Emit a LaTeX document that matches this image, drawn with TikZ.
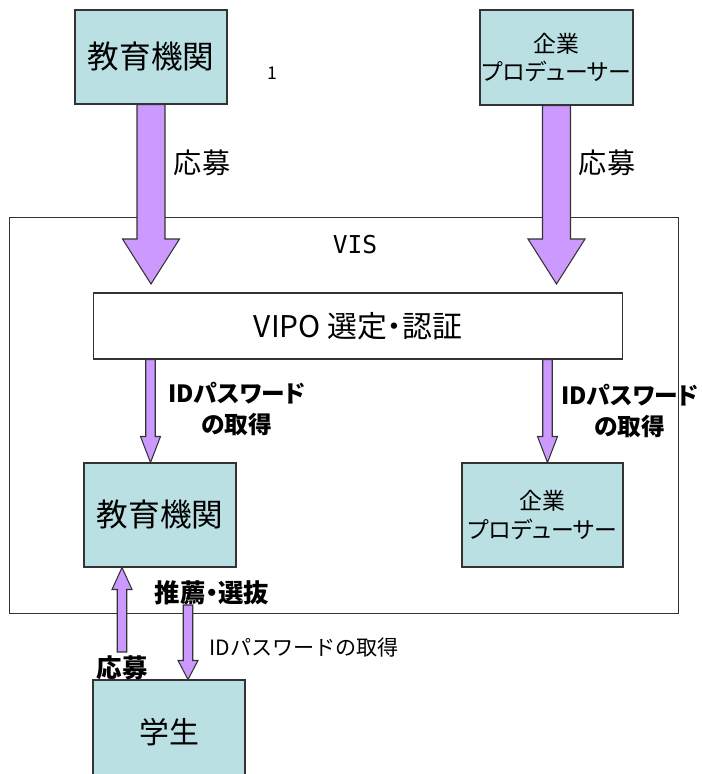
\documentclass[tikz,border=0pt]{standalone}
\usepackage{fontspec}
\setmainfont{Noto Sans CJK JP}[RawFeature=+palt]
\newfontfamily\jpfull{Noto Sans CJK JP}
\newfontfamily\visfont{DejaVu Sans Mono}
\usetikzlibrary{calc}
\definecolor{orgfill}{RGB}{187,224,227}
\definecolor{arrowfill}{RGB}{204,153,255}

\begin{document}
\begin{tikzpicture}[x=0.02cm, y=-0.02cm,
        orgbox/.style={draw=black!80, fill=orgfill, line width=0.6pt, minimum width=3.04cm, minimum height=2.08cm, inner sep=0pt, align=center},
        selbox/.style={draw=black!80, fill=white, line width=0.6pt, minimum width=10.6cm, minimum height=1.32cm, inner sep=0pt},
        frame/.style={draw=black!80, line width=0.6pt, minimum width=13.4cm, minimum height=7.94cm, inner sep=0pt},
        blockarrow/.style n args={3}{to path={
            ($(\tikztostart)!#1!90:(\tikztotarget)$) --
            ($(\tikztotarget)!#3!(\tikztostart)!#1!-90:(\tikztostart)$) --
            ($(\tikztotarget)!#3!(\tikztostart)!#2!-90:(\tikztostart)$) --
            (\tikztotarget) --
            ($(\tikztotarget)!#3!(\tikztostart)!#2!90:(\tikztostart)$) --
            ($(\tikztotarget)!#3!(\tikztostart)!#1!90:(\tikztostart)$) --
            ($(\tikztostart)!#1!-90:(\tikztotarget)$) -- cycle}},
        bigarrow/.style={blockarrow={0.28cm}{0.57cm}{0.9cm}, fill=arrowfill, draw=black!80, line width=0.6pt},
        smallarrow/.style={blockarrow={0.095cm}{0.2cm}{#1}, fill=arrowfill, draw=black!80, line width=0.6pt},
        lbl/.style={inner sep=0pt, align=center}
    ]
        \useasboundingbox (0,0) rectangle (701,774);
        \clip (0,0) rectangle (701,774);

        % VIS frame
        \node[frame] (vis) at (344,415.5) {};
        \node[lbl, font=\visfont\fontsize{14}{16}\selectfont] (vislbl) at (355,245) {VIS};

        % applicants
        \node[orgbox, minimum height=1.88cm, font=\fontsize{18}{22}\selectfont] (edu1) at (151,57) {教育機関};
        \node[orgbox, minimum width=3.06cm, minimum height=1.9cm, font=\fontsize{13}{16}\selectfont] (prod1) at (556.5,57.5) {企業\\プロデューサー};
        \node[lbl, font=\fontsize{10}{12}\selectfont] (pgno) at (272,73) {1};

        % selection
        \node[selbox, font=\fontsize{17}{20}\selectfont] (vipo) at (358,326) {VIPO 選定・認証};

        % registered
        \node[orgbox, font=\fontsize{18}{22}\selectfont] (edu2) at (160,515) {教育機関};
        \node[orgbox, minimum width=3.22cm, font=\fontsize{13}{16}\selectfont] (prod2) at (542.5,515) {企業\\プロデューサー};
        \node[orgbox, font=\fontsize{17}{20}\selectfont] (stud) at (169,732) {学生};

        % apply
        \coordinate (t1) at (151,284);
        \coordinate (t2) at (556.5,284);
        \draw[bigarrow] (edu1.south) to (t1);
        \draw[bigarrow] (prod1.south) to (t2);
        \node[lbl, font=\fontsize{16}{19}\selectfont] (apply1) at (202,163) {応募};
        \node[lbl, font=\fontsize{16}{19}\selectfont] (apply2) at (607,163) {応募};

        % ID issue
        \coordinate (s1) at ([xshift=-0.19cm]edu2.north);
        \coordinate (s2) at ([xshift=0.1cm]prod2.north);
        \draw[smallarrow=0.52cm] (s1 |- vipo.south) to (s1);
        \draw[smallarrow=0.52cm] (s2 |- vipo.south) to (s2);
        \node[lbl, font=\bfseries\fontsize{13.5}{18}\selectfont] (id1) at (237,409) {IDパスワード\\の取得};
        \node[lbl, font=\bfseries\fontsize{13.5}{18}\selectfont] (id2) at (630,411) {IDパスワード\\の取得};

        % students
        \coordinate (u0) at (122,652);
        \coordinate (d0) at (188,605);
        \draw[smallarrow=0.44cm] (u0) to (u0 |- edu2.south);
        \draw[smallarrow=0.38cm] (d0) to (d0 |- stud.north);
        \node[lbl, font=\bfseries\fontsize{14.5}{17}\selectfont] (recsel) at (212,593) {推薦・選抜};
        \node[lbl, font=\bfseries\fontsize{14.5}{17}\selectfont] (apply3) at (122,668) {応募};
        \node[lbl, font=\jpfull\fontsize{12}{14}\selectfont] (id3) at (304,648) {IDパスワードの取得};

    \end{tikzpicture}
\end{document}
